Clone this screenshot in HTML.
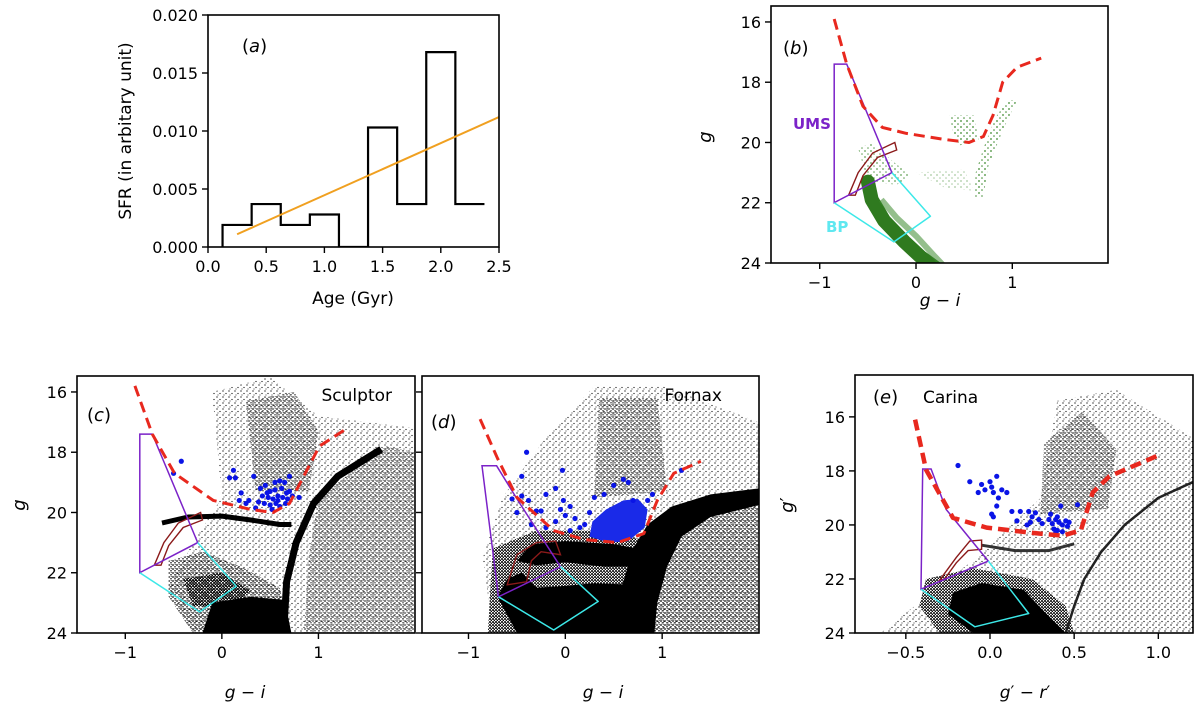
<!DOCTYPE html>
<html><head><meta charset="utf-8"><style>
html,body{margin:0;padding:0;background:#fff;}
svg{display:block;font-family:"DejaVu Sans","Liberation Sans",sans-serif;}
</style></head><body>
<svg id="fig" width="1200" height="708" viewBox="0 0 1200 708" xmlns="http://www.w3.org/2000/svg">
<defs>
<pattern id="sp" width="6" height="6" patternUnits="userSpaceOnUse"><circle cx="1" cy="1" r="0.65" fill="#000"/><circle cx="4" cy="3.5" r="0.6" fill="#000"/><circle cx="2" cy="5" r="0.5" fill="#000"/></pattern>
<pattern id="md" width="4" height="4" patternUnits="userSpaceOnUse"><circle cx="1" cy="1" r="0.85" fill="#000"/><circle cx="3" cy="2.8" r="0.75" fill="#000"/><circle cx="3.2" cy="0.6" r="0.5" fill="#000"/></pattern>
<pattern id="dn" width="3" height="3" patternUnits="userSpaceOnUse"><circle cx="1" cy="1" r="1" fill="#000"/><circle cx="2.4" cy="2.3" r="0.8" fill="#000"/></pattern>
<pattern id="gsp" width="6" height="6" patternUnits="userSpaceOnUse"><circle cx="1" cy="1" r="0.9" fill="#3d8a2e"/><circle cx="4" cy="4" r="0.8" fill="#3d8a2e"/></pattern>
</defs>
</svg>
<script>
// ---------- data: panel (a) ----------
const binEdges=[0.125,0.375,0.625,0.875,1.125,1.375,1.625,1.875,2.125,2.375];
const sfrValues=[0.0019,0.0037,0.0019,0.0028,0.0,0.0103,0.0037,0.0168,0.0037];
const fitAge=[0.25,2.5];
const fitSfr=[0.0011,0.0112];
const aXTicks=[0.0,0.5,1.0,1.5,2.0,2.5];
const aXTickLabels=["0.0","0.5","1.0","1.5","2.0","2.5"];
const aYTicks=[0,0.005,0.010,0.015,0.020];
const aYTickLabels=["0.000","0.005","0.010","0.015","0.020"];
// ---------- data: CMD overlays ----------
const cmdYTicks=[16,18,20,22,24];
const giTicks=[-1,0,1];
const giTickLabels=["\u22121","0","1"];
const grTicks=[-0.5,0.0,0.5,1.0];
const grTickLabels=["\u22120.5","0.0","0.5","1.0"];
const isoB=[[-0.85,15.9],[-0.72,17.4],[-0.55,18.8],[-0.35,19.5],[-0.1,19.7],[0.3,19.9],[0.55,20.0],[0.7,19.8],[0.8,19.1],[0.9,18.0],[1.05,17.5],[1.3,17.2]];
const isoC=[[-0.9,15.8],[-0.72,17.4],[-0.49,18.7],[-0.09,19.6],[0.3,19.9],[0.53,20.0],[0.7,19.7],[0.88,18.6],[1.01,17.8],[1.3,17.2]];
const isoD=[[-0.88,16.9],[-0.7,18.2],[-0.5,19.5],[-0.12,20.6],[0.2,20.9],[0.54,21.0],[0.81,20.7],[0.95,19.6],[1.12,18.7],[1.4,18.3]];
const isoE=[[-0.445,16.1],[-0.38,17.95],[-0.22,19.74],[-0.02,20.1],[0.26,20.3],[0.43,20.4],[0.54,20.2],[0.61,18.8],[0.71,18.2],[1.01,17.4]];
const umsBC=[[-0.85,17.4],[-0.72,17.4],[-0.25,21.0],[-0.85,22.0]];
const bpBC=[[-0.85,22.0],[-0.23,23.3],[0.15,22.45],[-0.25,21.0]];
const rgbBoxBC=[[-0.7,21.75],[-0.6,21.0],[-0.45,20.35],[-0.22,20.0],[-0.2,20.25],[-0.4,20.5],[-0.55,21.1],[-0.63,21.75]];
const umsD=[[-0.86,18.45],[-0.71,18.45],[-0.49,19.6],[-0.05,21.8],[-0.69,22.8]];
const bpD=[[-0.69,22.8],[-0.12,23.9],[0.34,22.95],[-0.05,21.8]];
const rgbBoxD=[[-0.6,22.4],[-0.5,21.4],[-0.3,21.0],[-0.1,20.95],[-0.05,21.4],[-0.25,21.3],[-0.35,21.6],[-0.4,22.3]];
const umsE=[[-0.40,17.93],[-0.35,17.93],[-0.26,19.43],[-0.01,21.34],[-0.41,22.38]];
const bpE=[[-0.41,22.38],[-0.09,23.77],[0.23,23.28],[-0.01,21.34]];
const rgbBoxE=[[-0.3,22.05],[-0.2,21.2],[-0.12,20.6],[-0.05,20.56],[-0.05,20.9],[-0.13,20.95],[-0.2,21.4],[-0.27,22.0]];
const blueC=[[-0.42,18.3],[-0.5,18.7],[0.12,18.6],[0.08,18.85],[0.14,18.85],[0.33,18.8],[0.7,18.8],[0.2,19.35],[0.18,19.6],[0.28,19.6],[0.4,19.2],[0.45,19.1],[0.5,19.3],[0.55,19.0],[0.6,18.95],[0.65,19.0],[0.62,19.2],[0.7,19.3],[0.42,19.45],[0.48,19.5],[0.53,19.55],[0.58,19.45],[0.63,19.5],[0.68,19.55],[0.73,19.45],[0.8,19.5],[0.44,19.7],[0.5,19.75],[0.56,19.7],[0.6,19.8],[0.66,19.7],[0.38,19.65],[0.35,19.85],[0.52,19.9],[0.58,19.6],[0.47,19.35],[0.55,19.25],[0.67,19.35],[0.25,19.7]];
const blueD=[[-0.4,18.0],[-0.03,18.6],[-0.45,18.8],[-0.1,19.2],[-0.45,19.45],[-0.38,19.6],[-0.2,19.4],[-0.55,19.55],[-0.5,20.0],[-0.3,19.95],[-0.25,19.95],[-0.05,19.9],[0.0,20.1],[-0.1,20.3],[-0.2,20.5],[-0.35,20.4],[-0.02,19.6],[0.05,19.8],[0.1,20.2],[0.2,20.4],[0.3,19.5],[0.25,20.0],[0.15,20.5],[0.4,19.4],[0.5,19.1],[0.65,19.0],[0.9,19.4],[1.2,18.6],[0.85,19.6],[0.05,20.6],[0.6,18.9],[0.7,19.6]];
const blueDCluster=[[0.25,20.8],[0.28,20.3],[0.42,19.9],[0.6,19.6],[0.75,19.55],[0.85,19.9],[0.82,20.5],[0.65,20.95],[0.45,21.0]];
const blueE=[[-0.19,17.8],[-0.12,18.4],[-0.05,18.5],[0.0,18.4],[0.04,18.2],[0.01,18.6],[-0.03,18.7],[0.02,18.8],[-0.07,18.8],[0.07,18.7],[0.1,18.8],[0.05,19.0],[0.04,19.3],[0.01,19.6],[0.02,19.7],[0.13,19.5],[0.16,19.85],[0.18,19.5],[0.23,19.5],[0.25,19.7],[0.27,19.55],[0.29,19.8],[0.24,19.9],[0.22,20.0],[0.31,19.95],[0.36,19.6],[0.42,19.3],[0.35,19.8],[0.37,19.95],[0.39,19.8],[0.41,19.9],[0.43,20.0],[0.38,20.15],[0.4,20.2],[0.45,19.85],[0.46,20.05],[0.52,19.25],[0.47,19.9],[0.4,19.7],[0.43,20.25],[0.39,20.3]];

const NS="http://www.w3.org/2000/svg";
const svg=document.getElementById('fig');
function mk(tag,attrs,parent){const e=document.createElementNS(NS,tag);for(const k in attrs)e.setAttribute(k,attrs[k]);(parent||svg).appendChild(e);return e;}
function lin(d0,d1,p0,p1){return v=>p0+(v-d0)*(p1-p0)/(d1-d0);}

function makePanel(id,L,R,T,B,xmin,xmax,ymin,ymax,invert){
  const g=mk('g',{});
  
  
  const cp=mk('clipPath',{id:'clip-'+id},svg.querySelector('defs'));
  mk('rect',{x:L,y:T,width:R-L,height:B-T},cp);
  const inner=mk('g',{'clip-path':'url(#clip-'+id+')'},g);
  
  
  const X=lin(xmin,xmax,L,R);
  const Y=invert?lin(ymin,ymax,T,B):lin(ymin,ymax,B,T);
  return {g,inner,X,Y,L,R,T,B};
}
function axes(p,id,xt,xl,yt,yl){
  const frame=mk('rect',{x:p.L,y:p.T,width:p.R-p.L,height:p.B-p.T,fill:'none',stroke:'#000','stroke-width':1.6},p.g);
  
  
  xt.forEach((v,i)=>{
    const x=p.X(v);
    const t=mk('line',{x1:x,x2:x,y1:p.B,y2:p.B+6,stroke:'#000','stroke-width':1.4},p.g);
    
    
    const tx=mk('text',{x:x,y:p.B+25,'text-anchor':'middle','font-size':16},p.g);
    
    
    tx.textContent=xl[i];
  });
  yt.forEach((v,i)=>{
    const y=p.Y(v);
    const t=mk('line',{x1:p.L-6,x2:p.L,y1:y,y2:y,stroke:'#000','stroke-width':1.4},p.g);
    
    
    const tx=mk('text',{x:p.L-10,y:y+6,'text-anchor':'end','font-size':16},p.g);
    
    
    tx.textContent=yl[i];
  });
}
function pts(p,arr){return arr.map(d=>p.X(d[0]).toFixed(1)+','+p.Y(d[1]).toFixed(1)).join(' ');}
function poly(p,arr,attrs,name){const e=mk('polygon',Object.assign({points:pts(p,arr)},attrs),p.inner);
  
  
  return e;}
function pline(p,arr,attrs,name){const e=mk('polyline',Object.assign({points:pts(p,arr),fill:'none','stroke-linejoin':'round'},attrs),p.inner);
  
  
  return e;}
function dots(p,arr,name){arr.forEach(d=>{const c=mk('circle',{cx:p.X(d[0]),cy:p.Y(d[1]),r:2.6,fill:'#0a14e6'},p.inner);
  
  });}
function label(x,y,txt,attrs,name,parent){const t=mk('text',Object.assign({x:x,y:y},attrs),parent);
  
  
  t.innerHTML=txt;return t;}
function overlays(p,id,iso,ums,bp,box,dashW){
  poly(p,box,{fill:'none',stroke:'#8b1a1a','stroke-width':1.4},'rgb-selection-box-'+id);
  poly(p,ums,{fill:'none',stroke:'#7b22c8','stroke-width':1.5},'ums-region-'+id);
  pline(p,bp,{stroke:'#3ce8e8','stroke-width':1.5},'bp-region-'+id);
  pline(p,iso,{stroke:'#e8281e','stroke-width':dashW||3.2,'stroke-dasharray':'11,6'},'isochrone-line-'+id);
}

// ---------- panel a ----------
const pa=makePanel('a',208,499,15,247,0,2.5,0,0.02,false);
let dpath='M'+pa.X(binEdges[0])+','+pa.Y(0);
sfrValues.forEach((v,i)=>{dpath+=' V'+pa.Y(v)+' H'+pa.X(binEdges[i+1]);});
const hist=mk('path',{d:dpath,fill:'none',stroke:'#000','stroke-width':2.2},pa.inner);


const fit=mk('line',{x1:pa.X(fitAge[0]),y1:pa.Y(fitSfr[0]),x2:pa.X(fitAge[1]),y2:pa.Y(fitSfr[1]),stroke:'#f0a020','stroke-width':2},pa.inner);


axes(pa,'a',aXTicks,aXTickLabels,aYTicks,aYTickLabels);
label(242,52,'(<tspan font-style="italic">a</tspan>)',{'font-size':18},'panel-label-a',pa.g);
label(353,304,'Age (Gyr)',{'font-size':17,'text-anchor':'middle'},'x-axis-title-a',pa.g);
label(0,0,'SFR (in arbitary unit)',{'font-size':17,'text-anchor':'middle',transform:'translate(131,131) rotate(-90)'},'y-axis-title-a',pa.g);

// ---------- panel b ----------
const pb=makePanel('b',771,1108,6,263,-1.506,1.994,15.47,24,true);
poly(pb,[[-0.6,20.2],[-0.45,20.0],[-0.25,20.6],[-0.05,21.1],[-0.2,21.4],[-0.5,21.3]],{fill:'url(#gsp)',opacity:0.8},'green-subgiant-stars');
poly(pb,[[0.6,21.8],[0.62,21.0],[0.7,20.2],[0.82,19.2],[0.95,18.6],[1.05,18.6],[0.9,19.6],[0.75,20.8],[0.7,21.8]],{fill:'url(#gsp)'},'green-rgb-stars');
poly(pb,[[0.0,21.0],[0.5,20.9],[0.6,21.6],[0.3,21.5]],{fill:'url(#gsp)',opacity:0.45},'green-sparse-stars');
poly(pb,[[0.35,19.1],[0.6,19.1],[0.65,19.9],[0.45,20.1],[0.38,19.6]],{fill:'url(#gsp)'},'green-red-clump');
pline(pb,[[-0.5,21.3],[-0.46,21.9],[-0.33,22.6],[-0.12,23.3],[0.05,23.8],[0.22,24.2]],{stroke:'#2f7a1f','stroke-width':14,'stroke-linecap':'round'},'green-main-sequence');
pline(pb,[[-0.36,21.9],[-0.2,22.5],[0.0,23.1],[0.2,23.8],[0.32,24.2]],{stroke:'#3d8a2e','stroke-width':6,opacity:0.55},'green-main-sequence-spread');
overlays(pb,'b',isoB,umsBC,bpBC,rgbBoxBC,3);
axes(pb,'b',giTicks,giTickLabels,cmdYTicks,cmdYTicks.map(String));
label(783,54,'(<tspan font-style="italic">b</tspan>)',{'font-size':18},'panel-label-b',pb.g);
label(793,129,'UMS',{'font-size':15,'font-weight':'bold',fill:'#7b22c8'},'ums-label',pb.g);
label(826,232,'BP',{'font-size':15,'font-weight':'bold',fill:'#5fe8f0'},'bp-label',pb.g);
label(940,306,'<tspan font-style="italic">g</tspan> − <tspan font-style="italic">i</tspan>',{'font-size':17,'text-anchor':'middle'},'x-axis-title-b',pb.g);
label(0,0,'g',{'font-size':18,'font-style':'italic','text-anchor':'middle',transform:'translate(711,137) rotate(-90)'},'y-axis-title-b',pb.g);

// ---------- panel c ----------
const pc=makePanel('c',77,415,376,633,-1.5,2.0,15.47,24,true);
poly(pc,[[-0.1,16.0],[0.5,15.5],[1.0,16.8],[2.0,17.2],[2.0,24],[-0.3,24],[-0.55,22.5],[-0.3,21.0],[0.0,19.5]],{fill:'url(#sp)'},'field-stars-sculptor');
poly(pc,[[0.25,16.3],[0.75,16.0],[1.0,17.3],[0.9,19.3],[0.35,19.3]],{fill:'url(#md)',opacity:0.8},'foreground-plume-sculptor');
poly(pc,[[1.0,19.5],[1.7,17.8],[2.0,18.0],[2.0,24],[0.85,24],[0.9,21.5]],{fill:'url(#md)',opacity:0.75},'field-right-sculptor');
poly(pc,[[-0.55,21.6],[-0.2,21.3],[0.2,21.8],[0.6,22.5],[0.7,24],[-0.3,24],[-0.55,22.8]],{fill:'url(#md)'},'msto-stars-sculptor');
poly(pc,[[-0.4,22.2],[0.0,22.0],[0.3,22.6],[0.1,23.2],[-0.3,23.1]],{fill:'url(#dn)'},'msto-dense-sculptor');
poly(pc,[[-0.1,23.0],[0.3,22.8],[0.65,22.9],[0.72,24],[-0.2,24]],{fill:'#000'},'main-sequence-sculptor');
pline(pc,[[0.64,24],[0.67,22.3],[0.77,21.0],[0.95,19.7],[1.2,18.8],[1.65,17.9]],{stroke:'#000','stroke-width':7},'rgb-sculptor');
pline(pc,[[-0.62,20.35],[-0.35,20.15],[0.0,20.12],[0.3,20.25],[0.6,20.4],[0.72,20.4]],{stroke:'#000','stroke-width':5},'horizontal-branch-sculptor');
dots(pc,blueC,'blue-straggler-sculptor');
overlays(pc,'c',isoC,umsBC,bpBC,rgbBoxBC,3);
axes(pc,'c',giTicks,giTickLabels,cmdYTicks,cmdYTicks.map(String));
label(87,421,'(<tspan font-style="italic">c</tspan>)',{'font-size':18},'panel-label-c',pc.g);
label(392,401,'Sculptor',{'font-size':17,'text-anchor':'end'},'galaxy-name-sculptor',pc.g);
label(245,698,'<tspan font-style="italic">g</tspan> − <tspan font-style="italic">i</tspan>',{'font-size':17,'text-anchor':'middle'},'x-axis-title-c',pc.g);
label(0,0,'g',{'font-size':18,'font-style':'italic','text-anchor':'middle',transform:'translate(25,505) rotate(-90)'},'y-axis-title-c',pc.g);

// ---------- panel d ----------
const pd=makePanel('d',422,759,376,633,-1.48,2.0,15.47,24,true);
poly(pd,[[-0.65,19.5],[-0.2,17.5],[0.3,15.8],[1.0,15.8],[2.0,17.0],[2.0,24],[-0.75,24],[-0.85,21.5]],{fill:'url(#sp)'},'field-stars-fornax');
poly(pd,[[0.35,16.2],[0.95,16.2],[1.05,19.3],[0.3,19.5]],{fill:'url(#md)',opacity:0.8},'foreground-plume-fornax');
poly(pd,[[-0.75,21.2],[-0.3,20.6],[0.3,20.6],[0.8,20.9],[0.85,24],[-0.8,24]],{fill:'url(#dn)'},'msto-stars-fornax');
poly(pd,[[1.0,20.3],[2.0,19.6],[2.0,24],[0.85,24],[0.95,22]],{fill:'url(#md)'},'field-right-fornax');
poly(pd,[[-0.5,21.6],[-0.35,21.05],[0.0,20.95],[0.5,21.05],[0.75,21.2],[0.75,21.8],[0.4,21.8],[0.0,21.65],[-0.3,21.75]],{fill:'#000'},'horizontal-branch-fornax');
poly(pd,[[0.5,24],[0.58,22.5],[0.7,21.2],[0.85,20.4],[1.1,19.8],[1.5,19.4],[2.0,19.2],[2.0,19.75],[1.5,20.15],[1.2,20.8],[1.05,21.8],[0.95,23],[0.92,24]],{fill:'#000'},'rgb-fornax');
poly(pd,[[-0.7,22.8],[-0.6,22.2],[-0.45,22.0],[-0.3,22.5],[-0.05,22.45],[0.3,22.35],[0.7,22.4],[0.9,24],[-0.5,24]],{fill:'#000'},'main-sequence-fornax');
poly(pd,blueDCluster,{fill:'#1a2ae8'},'blue-cluster-fornax');
dots(pd,blueD,'blue-straggler-fornax');
overlays(pd,'d',isoD,umsD,bpD,rgbBoxD,3);
axes(pd,'d',giTicks,giTickLabels,cmdYTicks,cmdYTicks.map(()=>''));
label(431,428,'(<tspan font-style="italic">d</tspan>)',{'font-size':18},'panel-label-d',pd.g);
label(722,401,'Fornax',{'font-size':17,'text-anchor':'end'},'galaxy-name-fornax',pd.g);
label(603,698,'<tspan font-style="italic">g</tspan> − <tspan font-style="italic">i</tspan>',{'font-size':17,'text-anchor':'middle'},'x-axis-title-d',pd.g);

// ---------- panel e ----------
const pe=makePanel('e',855,1193,375,633,-0.802,1.206,14.45,24,true);
poly(pe,[[-0.55,23.5],[-0.1,21.3],[0.3,19.0],[0.4,15.4],[0.75,15.0],[1.21,16.8],[1.21,24],[-0.65,24]],{fill:'url(#sp)'},'field-stars-carina');
poly(pe,[[0.32,17.0],[0.55,15.8],[0.75,17.2],[0.7,19.4],[0.3,19.6]],{fill:'url(#md)',opacity:0.8},'foreground-plume-carina');
poly(pe,[[0.8,20.5],[1.21,18.8],[1.21,24],[0.6,24]],{fill:'url(#sp)'},'field-right-carina');
poly(pe,[[-0.38,22.0],[-0.1,21.6],[0.25,22.0],[0.45,23.0],[0.5,24],[-0.3,24],[-0.42,23.0]],{fill:'url(#dn)'},'msto-stars-carina');
poly(pe,[[-0.22,22.5],[-0.05,22.15],[0.2,22.4],[0.32,23.2],[0.45,24],[-0.1,24],[-0.25,23.3]],{fill:'#000'},'main-sequence-carina');
pline(pe,[[0.45,24],[0.5,23.0],[0.56,22.0],[0.66,21.0],[0.8,20.0],[1.0,19.0],[1.21,18.4]],{stroke:'#222','stroke-width':2.5},'rgb-carina');
pline(pe,[[-0.05,20.75],[0.15,20.95],[0.35,20.95],[0.5,20.7]],{stroke:'#333','stroke-width':3},'red-clump-carina');
dots(pe,blueE,'blue-straggler-carina');
overlays(pe,'e',isoE,umsE,bpE,rgbBoxE,4.5);
axes(pe,'e',grTicks,grTickLabels,cmdYTicks,cmdYTicks.map(String));
label(873,403,'(<tspan font-style="italic">e</tspan>)',{'font-size':18},'panel-label-e',pe.g);
label(923,403,'Carina',{'font-size':17},'galaxy-name-carina',pe.g);
label(1025,698,'<tspan font-style="italic">g</tspan>′ − <tspan font-style="italic">r</tspan>′',{'font-size':17,'text-anchor':'middle'},'x-axis-title-e',pe.g);
label(0,0,'<tspan font-style="italic">g</tspan>′',{'font-size':18,'text-anchor':'middle',transform:'translate(793,505) rotate(-90)'},'y-axis-title-e',pe.g);
</script>
</body></html>
